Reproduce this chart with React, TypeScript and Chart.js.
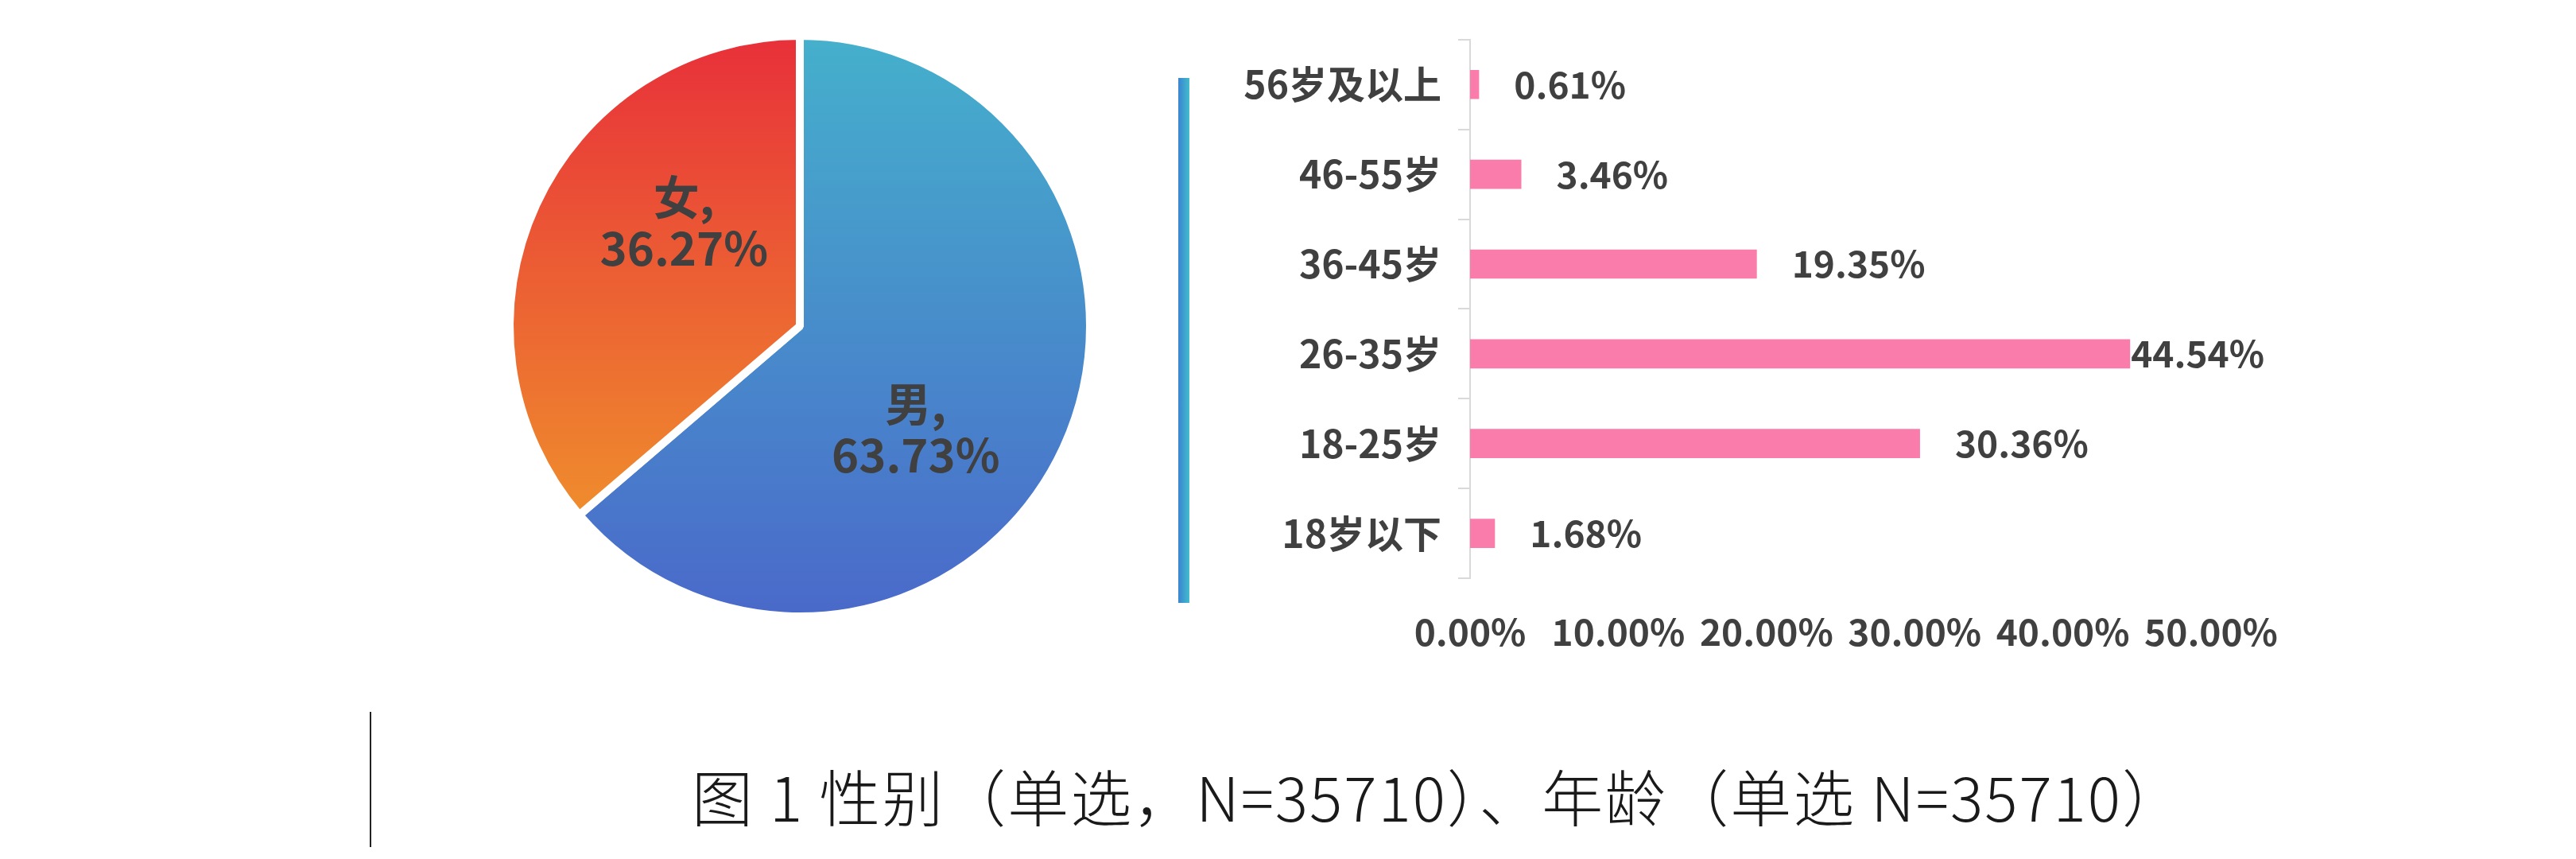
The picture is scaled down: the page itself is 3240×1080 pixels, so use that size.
import { useEffect, useRef } from "react";
import { Chart, registerables } from "chart.js";

Chart.register(...registerables);

const genderLabels = ["男", "女"];
const genderValues = [63.73, 36.27];

const ageLabels = ["56岁及以上", "46-55岁", "36-45岁", "26-35岁", "18-25岁", "18岁以下"];
const ageValues = [0.61, 3.46, 19.35, 44.54, 30.36, 1.68];
const ageTicks = [0, 10, 20, 30, 40, 50];

const caption = "图 1 性别（单选，N=35710）、年龄（单选 N=35710）";

const FONT = '"Noto Sans CJK SC", "Noto Sans", sans-serif';
const TEXT = "#404040";
const pct = (v: number) => v.toFixed(2) + "%";

// slice gradients, top of the pie to bottom
const sliceStops: [number, string][][] = [
  [[0, "#45b0cc"], [1, "#4a69ca"]],
  [[0, "#e8303a"], [0.815, "#ef8b2d"], [1, "#ef8b2d"]],
];

const pieLabels = {
  id: "pieLabels",
  afterDatasetsDraw(chart: any) {
    const { ctx } = chart;
    const meta = chart.getDatasetMeta(0);
    ctx.save();
    ctx.fillStyle = TEXT;
    ctx.font = `bold 58px ${FONT}`;
    ctx.textAlign = "center";
    ctx.textBaseline = "middle";
    meta.data.forEach((arc: any, i: number) => {
      const mid = (arc.startAngle + arc.endAngle) / 2 + (17 * Math.PI) / 180;
      const r = arc.outerRadius * 0.535;
      const x = arc.x + Math.cos(mid) * r;
      const y = arc.y + Math.sin(mid) * r;
      ctx.fillText(genderLabels[i] + ",", x, y - 32);
      ctx.fillText(pct(genderValues[i]), x, y + 32);
    });
    ctx.restore();
  },
};

function GenderPie() {
  const ref = useRef<HTMLCanvasElement>(null);
  useEffect(() => {
    if (!ref.current) return;
    const R = 365;
    const chart = new Chart(ref.current, {
      type: "pie",
      data: {
        labels: genderLabels,
        datasets: [
          {
            data: genderValues,
            backgroundColor: (c: any) => {
              const area = c.chart.chartArea;
              if (!area) return sliceStops[c.dataIndex][0][1];
              const cy = (area.top + area.bottom) / 2;
              const g = c.chart.ctx.createLinearGradient(0, cy - R, 0, cy + R);
              sliceStops[c.dataIndex].forEach(([o, col]) => g.addColorStop(o, col));
              return g;
            },
            borderColor: "#ffffff",
            borderWidth: 10,
          },
        ],
      },
      options: {
        responsive: false,
        animation: false,
        radius: R,
        layout: { padding: 0 },
        plugins: { legend: { display: false }, tooltip: { enabled: false } },
      } as any,
      plugins: [pieLabels],
    });
    return () => chart.destroy();
  }, []);
  return (
    <canvas
      ref={ref}
      width={760}
      height={760}
      style={{ position: "absolute", left: 626, top: 30, width: 760, height: 760 }}
    />
  );
}

const barLabels = {
  id: "barLabels",
  afterDatasetsDraw(chart: any) {
    const { ctx, chartArea } = chart;
    const meta = chart.getDatasetMeta(0);
    ctx.save();
    ctx.fillStyle = TEXT;
    ctx.font = `bold 46px ${FONT}`;
    ctx.textAlign = "left";
    ctx.textBaseline = "middle";
    const limit = chartArea.right + 67;
    meta.data.forEach((bar: any, i: number) => {
      const t = pct(ageValues[i]);
      const w = ctx.measureText(t).width;
      ctx.fillText(t, Math.min(bar.x + 44, limit - w), bar.y);
    });
    ctx.restore();
  },
};

function AgeBar() {
  const ref = useRef<HTMLCanvasElement>(null);
  useEffect(() => {
    if (!ref.current) return;
    const chart = new Chart(ref.current, {
      type: "bar",
      data: {
        labels: ageLabels,
        datasets: [
          {
            data: ageValues,
            backgroundColor: "#f97cab",
            categoryPercentage: 1,
            barPercentage: 0.325,
          },
        ],
      },
      options: {
        indexAxis: "y",
        responsive: false,
        animation: false,
        layout: { padding: { top: 38, right: 119, left: 0, bottom: 0 } },
        plugins: { legend: { display: false }, tooltip: { enabled: false } },
        scales: {
          x: {
            min: ageTicks[0],
            max: ageTicks[ageTicks.length - 1],
            afterBuildTicks: (s: any) => {
              s.ticks = ageTicks.map((v) => ({ value: v }));
            },
            afterFit: (s: any) => {
              s.height = 103;
            },
            ticks: {
              callback: (v: any) => pct(Number(v)),
              font: { family: FONT, size: 46, weight: "bold" },
              color: TEXT,
              padding: 32,
              maxRotation: 0,
              autoSkip: false,
            },
            grid: { display: false },
            border: { display: false },
          },
          y: {
            afterFit: (s: any) => {
              s.width = 349;
            },
            grid: { drawOnChartArea: false, tickLength: 15, color: "#d9d9d9", lineWidth: 2 },
            border: { display: true, color: "#d9d9d9", width: 2 },
            ticks: {
              font: { family: FONT, size: 48, weight: "bold" },
              color: TEXT,
              padding: 21,
            },
          },
        },
      } as any,
      plugins: [barLabels],
    });
    return () => chart.destroy();
  }, []);
  return (
    <canvas
      ref={ref}
      width={1400}
      height={830}
      style={{ position: "absolute", left: 1500, top: 0, width: 1400, height: 830 }}
    />
  );
}

export default function App() {
  return (
    <div
      style={{
        position: "fixed",
        left: 0,
        top: 0,
        width: 3240,
        height: 1080,
        background: "#ffffff",
        overflow: "hidden",
      }}
    >
      <GenderPie />
      <div
        style={{
          position: "absolute",
          left: 1482,
          top: 98,
          width: 14,
          height: 660,
          background: "linear-gradient(to right, #3a84d2, #42bccb)",
        }}
      />
      <AgeBar />
      <div
        style={{
          position: "absolute",
          left: 465,
          top: 895,
          width: 2,
          height: 170,
          background: "#222222",
        }}
      />
      <div
        style={{
          position: "absolute",
          left: 870,
          top: 958,
          fontFamily: FONT,
          fontSize: 77,
          fontWeight: 300,
          letterSpacing: 2,
          lineHeight: "84px",
          color: "#1a1a1a",
          whiteSpace: "nowrap",
        }}
      >
        {caption}
      </div>
    </div>
  );
}
